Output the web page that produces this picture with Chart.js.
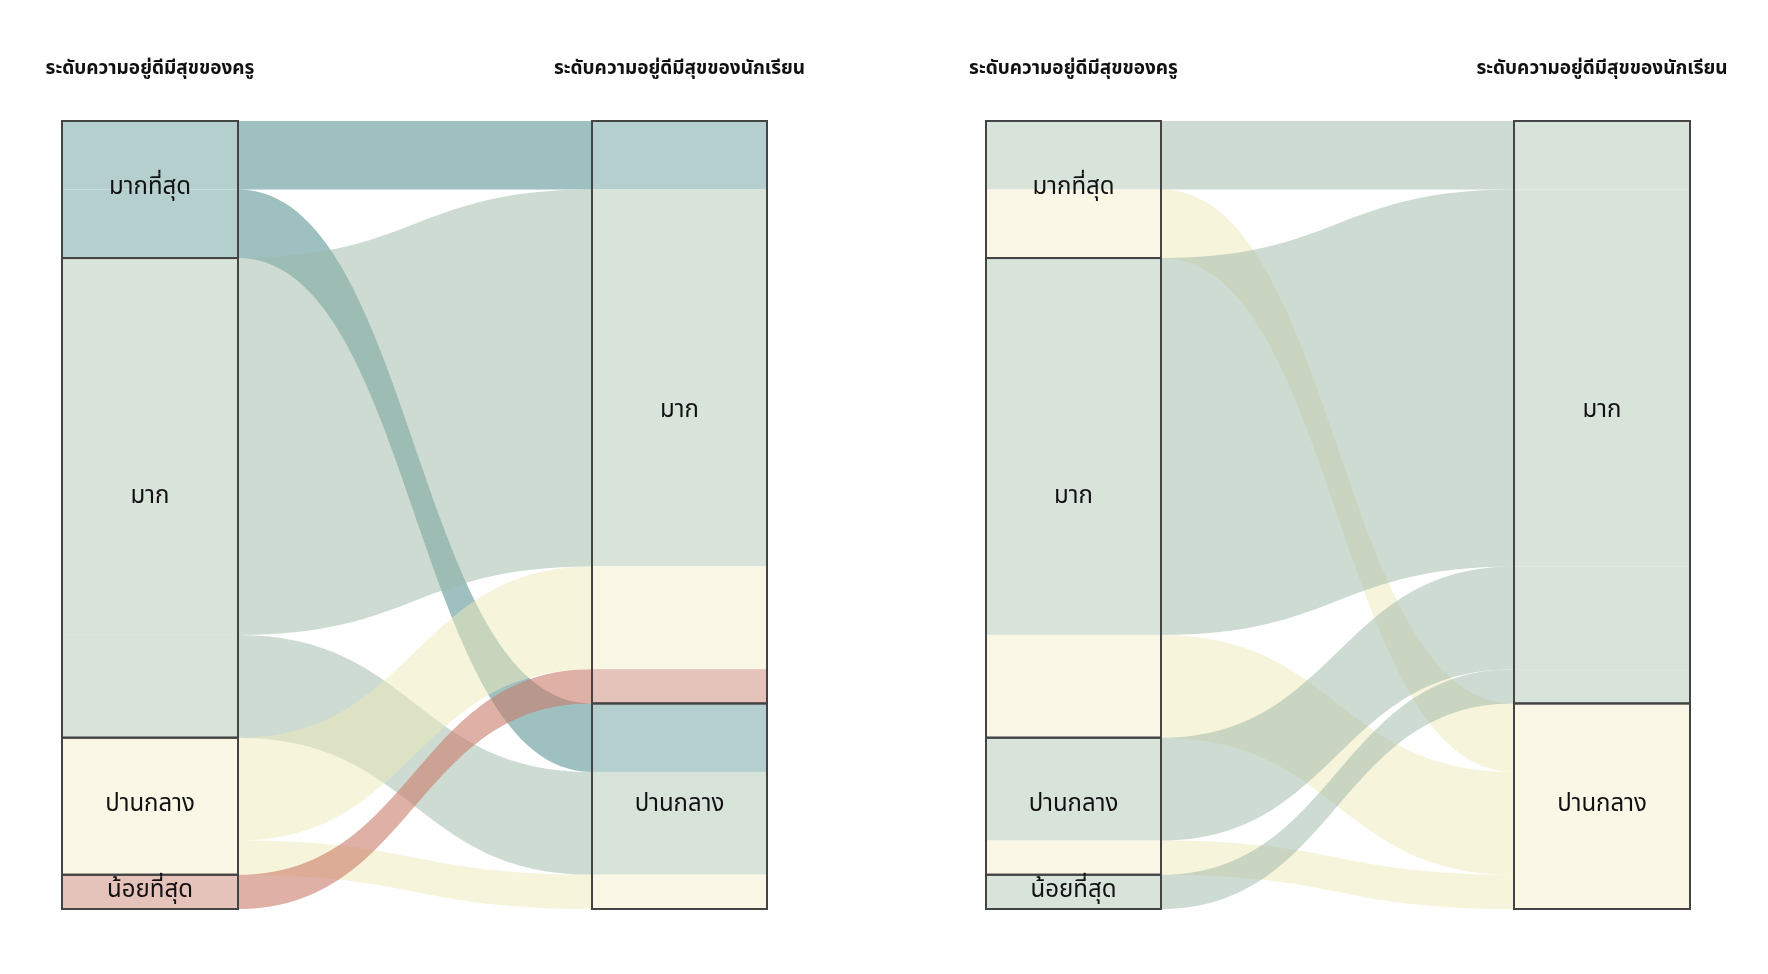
<!DOCTYPE html>
<html><head><meta charset="utf-8">
<script src="https://cdn.jsdelivr.net/npm/chart.js@4"></script>
<style>html,body{margin:0;background:#fff}#wrap{width:1768px;height:974px}</style>
</head><body><div id="wrap"><canvas id="c"></canvas></div>
<script>
// categories
const teacherCats = ['มากที่สุด', 'มาก', 'ปานกลาง', 'น้อยที่สุด'];
const studentCats = ['มาก', 'ปานกลาง'];
const axisTitles = ['ระดับความอยู่ดีมีสุขของครู', 'ระดับความอยู่ดีมีสุขของนักเรียน'];
// flows: teacher index -> student index, count
const flowFrom = [0, 0, 1, 1, 2, 2, 3];
const flowTo   = [0, 1, 0, 1, 0, 1, 0];
const flowN    = [2, 2, 11, 3, 3, 1, 1];
// column x positions (left/right edge) for the two panels
const panelCols = [[62, 238, 592, 767], [986, 1161, 1514, 1690]];

const teacherFill = ['#b5cfcf', '#d8e3da', '#faf7e6', '#e5c2ba'];
const teacherFlow = ['rgba(95,150,150,0.6)', 'rgba(155,183,165,0.5)', 'rgba(239,233,185,0.5)', 'rgba(202,124,105,0.6)'];
const studentFill = ['#d8e3da', '#faf7e6'];
const studentFlow = ['rgba(155,183,165,0.5)', 'rgba(239,233,185,0.5)'];
const FONT = '"Noto Sans Thai", "Noto Sans", "DejaVu Sans", sans-serif';

const total = flowN.reduce((a, b) => a + b, 0);

function layout() {
  // left side: order by teacher then student; right side: by student then teacher
  const idx = flowN.map((_, i) => i);
  const leftOrder = [...idx].sort((a, b) => flowFrom[a] - flowFrom[b] || flowTo[a] - flowTo[b]);
  const rightOrder = [...idx].sort((a, b) => flowTo[a] - flowTo[b] || flowFrom[a] - flowFrom[b]);
  const L = [], R = [];
  let y = 0; leftOrder.forEach(i => { L[i] = [y, y + flowN[i]]; y += flowN[i]; });
  y = 0; rightOrder.forEach(i => { R[i] = [y, y + flowN[i]]; y += flowN[i]; });
  const tStr = [], sStr = [];
  y = 0; teacherCats.forEach((c, k) => { const n = flowN.filter((_, i) => flowFrom[i] === k).reduce((a, b) => a + b, 0); tStr.push([y, y + n]); y += n; });
  y = 0; studentCats.forEach((c, k) => { const n = flowN.filter((_, i) => flowTo[i] === k).reduce((a, b) => a + b, 0); sStr.push([y, y + n]); y += n; });
  return { L, R, tStr, sStr };
}

const alluvial = {
  id: 'alluvial',
  afterDatasetsDraw(chart) {
    const ctx = chart.ctx, xs = chart.scales.x, ys = chart.scales.y;
    const { L, R, tStr, sStr } = layout();
    const X = v => xs.getPixelForValue(v), Y = v => ys.getPixelForValue(v);
    panelCols.forEach((cols, p) => {
      const [a0, a1, b0, b1] = cols.map(X);
      const colorOf = i => p === 0 ? teacherFill[flowFrom[i]] : studentFill[flowTo[i]];
      const flowCol = i => p === 0 ? teacherFlow[flowFrom[i]] : studentFlow[flowTo[i]];
      // segment fills
      flowN.forEach((_, i) => {
        ctx.fillStyle = colorOf(i);
        ctx.fillRect(a0, Y(L[i][0]), a1 - a0, Y(L[i][1]) - Y(L[i][0]));
        ctx.fillRect(b0, Y(R[i][0]), b1 - b0, Y(R[i][1]) - Y(R[i][0]));
      });
      // flows
      const xm = (a1 + b0) / 2;
      flowN.forEach((_, i) => {
        const ly0 = Y(L[i][0]), ly1 = Y(L[i][1]), ry0 = Y(R[i][0]), ry1 = Y(R[i][1]);
        ctx.beginPath();
        ctx.moveTo(a1, ly0);
        ctx.bezierCurveTo(xm, ly0, xm, ry0, b0, ry0);
        ctx.lineTo(b0, ry1);
        ctx.bezierCurveTo(xm, ry1, xm, ly1, a1, ly1);
        ctx.closePath();
        ctx.fillStyle = flowCol(i);
        ctx.fill();
      });
      // strata outlines and labels
      ctx.strokeStyle = '#444'; ctx.lineWidth = 2;
      ctx.fillStyle = '#111'; ctx.font = '24px ' + FONT;
      ctx.textAlign = 'center'; ctx.textBaseline = 'middle';
      const strata = (list, cats, x0, x1) => list.forEach((s, k) => {
        ctx.strokeRect(x0, Y(s[0]), x1 - x0, Y(s[1]) - Y(s[0]));
        ctx.fillText(cats[k], (x0 + x1) / 2, (Y(s[0]) + Y(s[1])) / 2);
      });
      strata(tStr, teacherCats, a0, a1);
      strata(sStr, studentCats, b0, b1);
      // titles
      ctx.font = 'bold 19px ' + FONT;
      ctx.fillText(axisTitles[0], (a0 + a1) / 2, 70);
      ctx.fillText(axisTitles[1], (b0 + b1) / 2, 70);
    });
  }
};

new Chart(document.getElementById('c'), {
  type: 'scatter',
  data: { datasets: [{ data: [] }] },
  options: {
    responsive: true, maintainAspectRatio: false, animation: false,
    layout: { padding: { top: 121, bottom: 65, left: 0, right: 0 } },
    plugins: { legend: { display: false }, tooltip: { enabled: false } },
    scales: {
      x: { type: 'linear', min: 0, max: 1768, display: false },
      y: { type: 'linear', min: 0, max: total, reverse: true, display: false }
    }
  },
  plugins: [alluvial]
});
</script></body></html>
